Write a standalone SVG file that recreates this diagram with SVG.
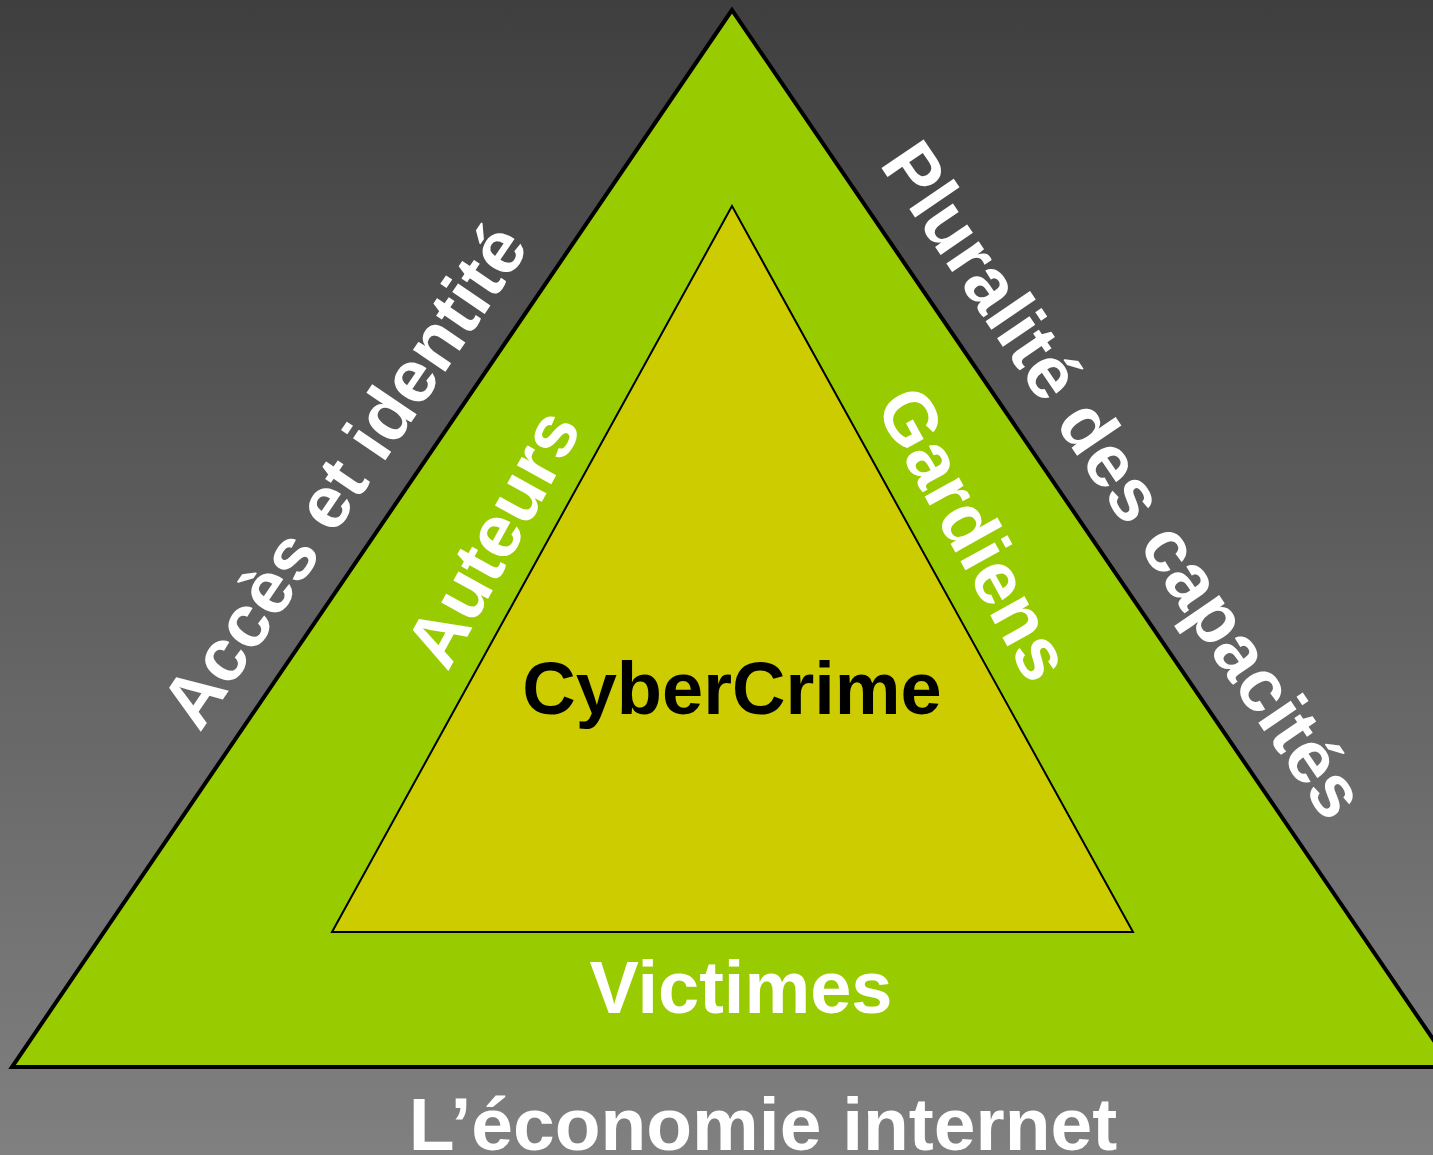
<svg xmlns="http://www.w3.org/2000/svg" width="1433" height="1155" viewBox="0 0 1433 1155">
<defs>
<linearGradient id="bg" x1="0" y1="0" x2="0" y2="1">
<stop offset="0" stop-color="#3f3f3f"/>
<stop offset="1" stop-color="#808080"/>
</linearGradient>
<style>
.t{font-family:"Liberation Sans",Arial,sans-serif;font-weight:bold;text-anchor:middle}
.w{fill:#ffffff}
.k{fill:#000000}
</style>
</defs>
<rect x="0" y="0" width="1433" height="1155" fill="url(#bg)"/>
<g id="connectors"></g>
<g id="outer">
<polygon points="732,10 12,1067 1452,1067" fill="#99cc00" stroke="#000" stroke-width="4"/>
</g>
<g id="inner">
<polygon points="732,206 332,932 1133,932" fill="#cccc00" stroke="#000" stroke-width="2"/>
</g>
<g id="label-acces">
<text class="t w" font-size="74" transform="translate(365,490) rotate(-55.8)">Accès et identité</text>
</g>
<g id="label-pluralite">
<text class="t w" font-size="74" transform="translate(1103,494) rotate(55.8)">Pluralité des capacités</text>
</g>
<g id="label-auteurs">
<text class="t w" font-size="74" transform="translate(515,550) rotate(-61.1)">Auteurs</text>
</g>
<g id="label-gardiens">
<text class="t w" font-size="74" transform="translate(952,546) rotate(61.1)">Gardiens</text>
</g>
<g id="label-cybercrime">
<text class="t k" font-size="74" x="732" y="714">CyberCrime</text>
</g>
<g id="label-victimes">
<text class="t w" font-size="74" x="741" y="1013">Victimes</text>
</g>
<g id="label-economie">
<text class="t w" font-size="75" x="763" y="1150">L’économie internet</text>
</g>
</svg>
